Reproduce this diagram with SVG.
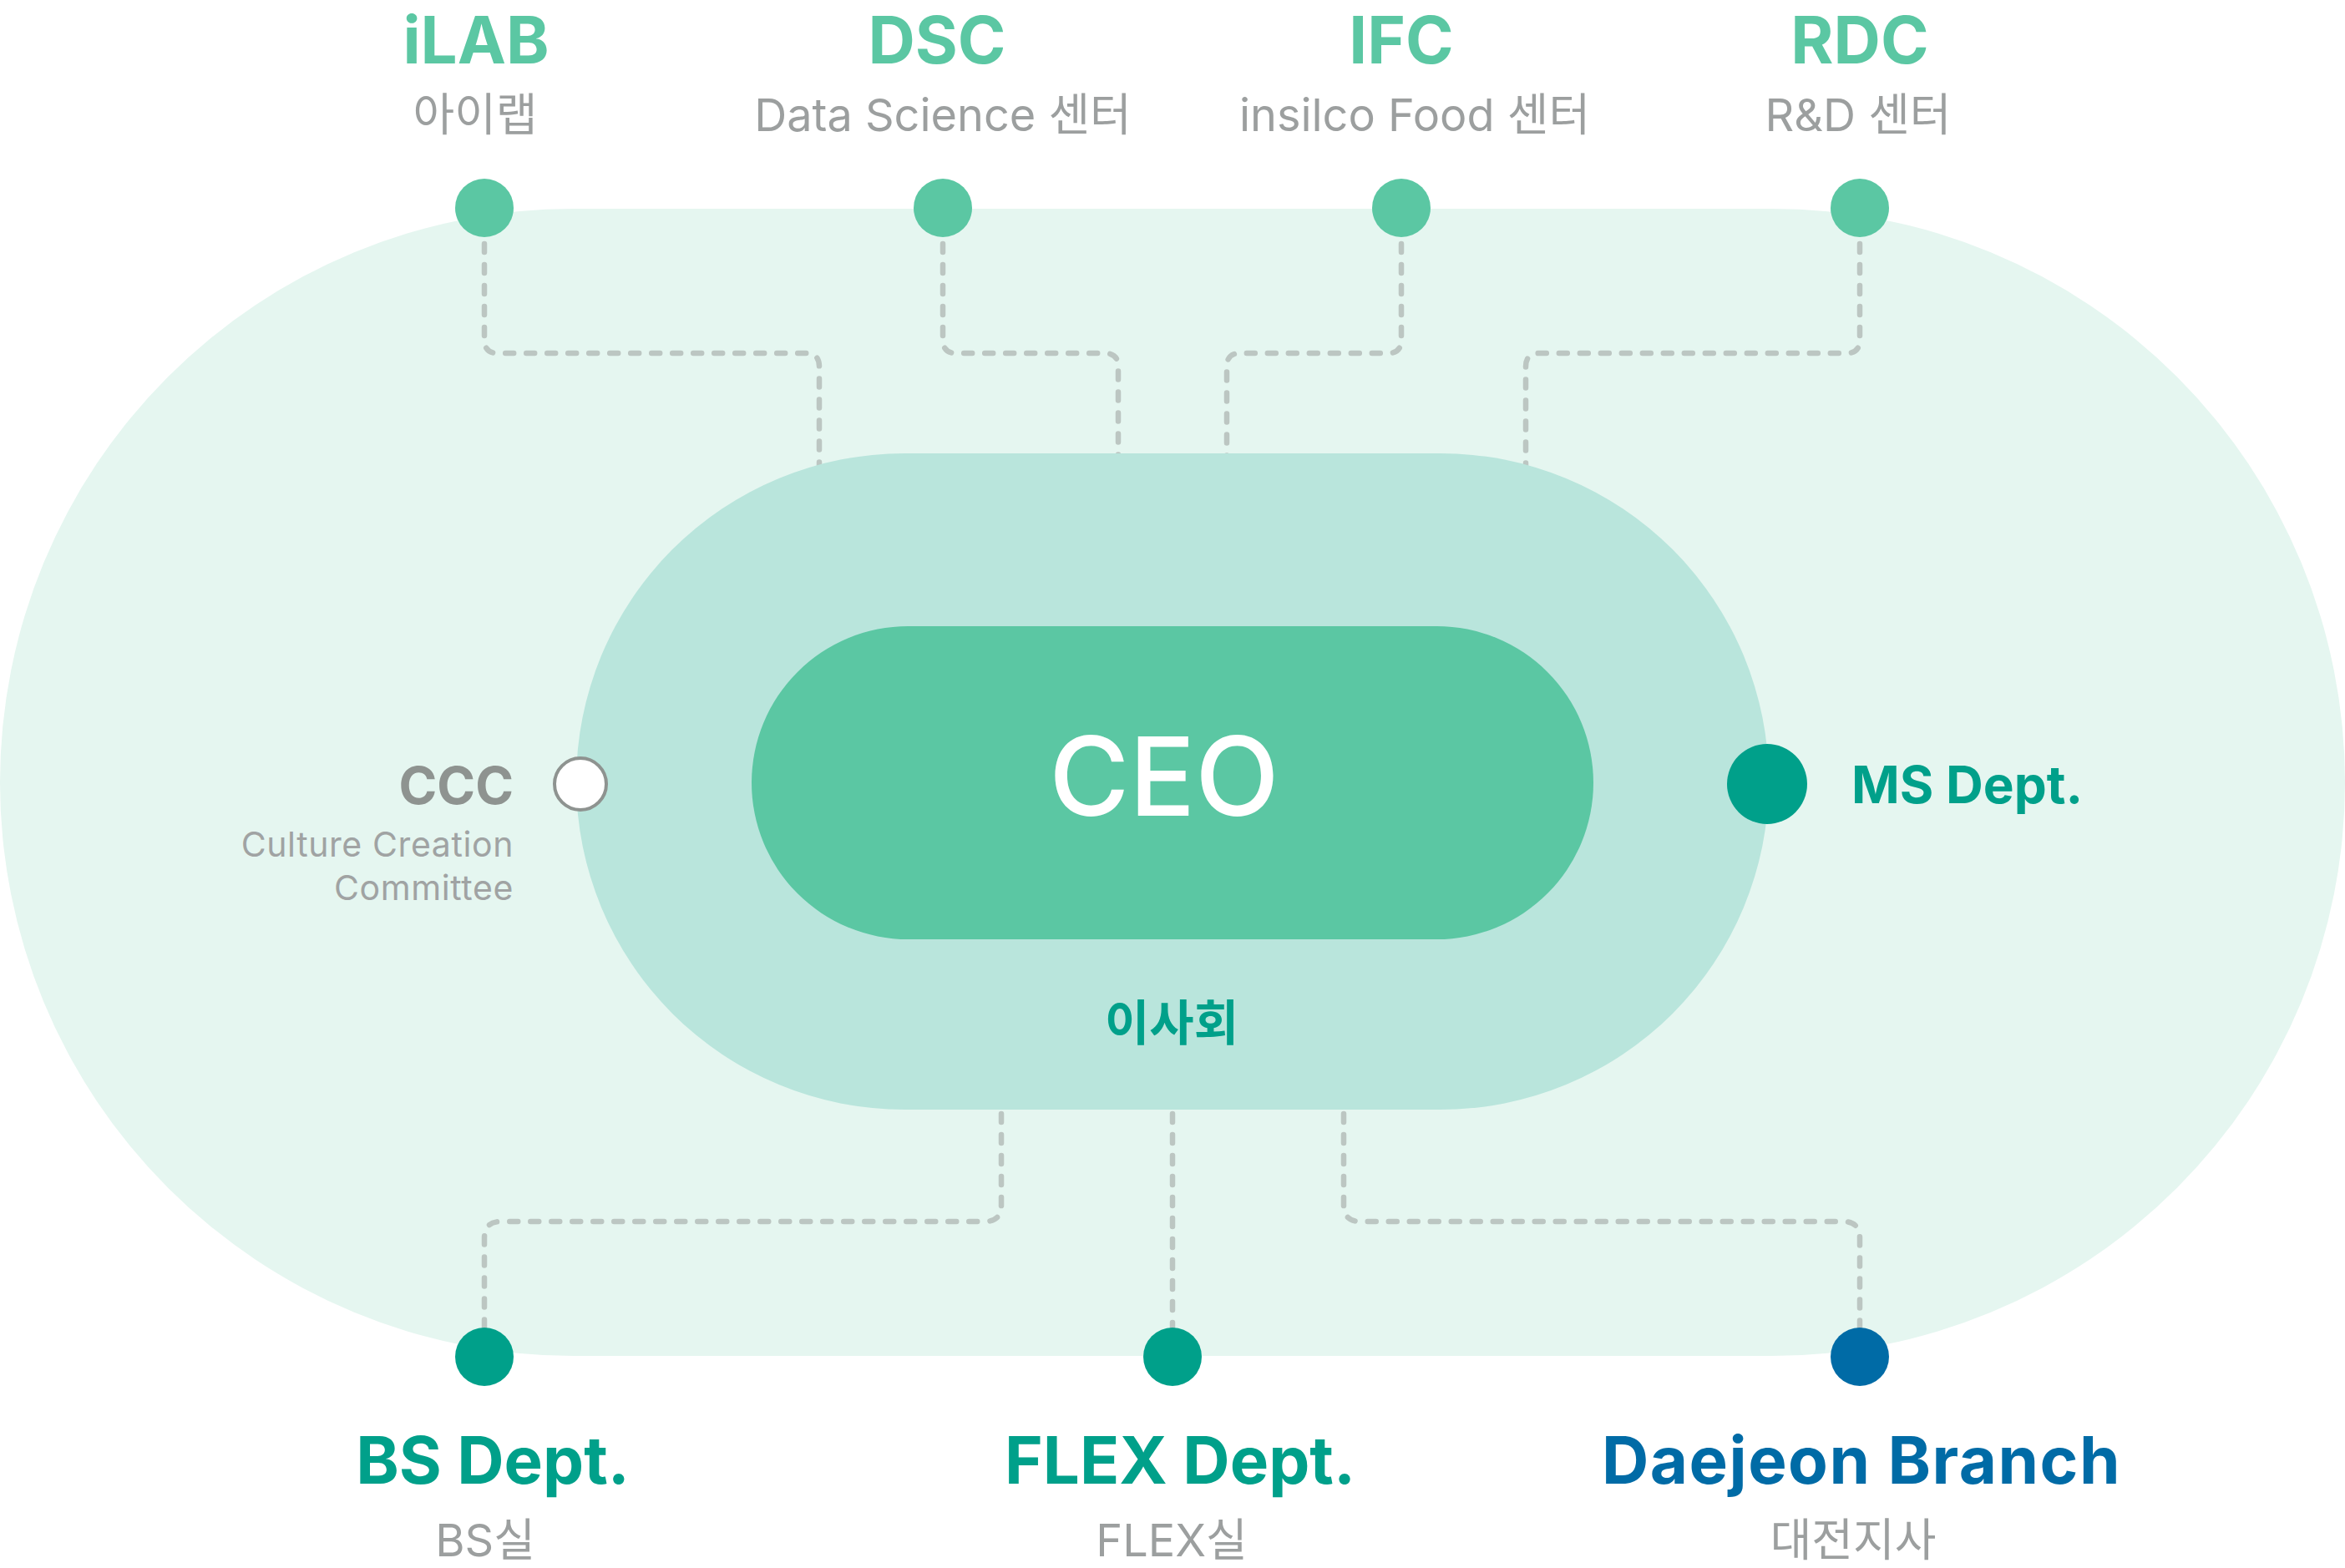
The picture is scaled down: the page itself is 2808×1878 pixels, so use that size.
<svg xmlns="http://www.w3.org/2000/svg" width="2808" height="1878" viewBox="0 0 2808 1878">
  <style>
    .conn { fill: none; stroke: #BCC6C2; stroke-width: 6.5; stroke-dasharray: 10 15; stroke-linecap: round; stroke-linejoin: round; }
    .title { font-family: Inter, "Noto Sans", "Noto Sans CJK KR", sans-serif; font-weight: 700; font-size: 78px; text-anchor: middle; }
    .sub { font-family: Inter, "Noto Sans CJK KR", sans-serif; font-weight: 400; font-size: 54px; fill: #9C9F9F; text-anchor: middle; }
    .mint { fill: #5BC7A3; }
    .teal { fill: #00A08A; }
    .blue { fill: #006BA6; }
  </style>
  <rect width="2808" height="1878" fill="#FFFFFF"/>
  <g id="outer-ring">
    <rect x="0" y="250" width="2808" height="1374" rx="687" ry="687" fill="#E5F6F0"/>
  </g>
  <g id="connectors">
    <path class="conn" d="M580 292 V407 Q580 423 596 423 H965 Q981 423 981 439 V562"/>
    <path class="conn" d="M1129 292 V407 Q1129 423 1145 423 H1323 Q1339 423 1339 439 V562"/>
    <path class="conn" d="M1678 292 V407 Q1678 423 1662 423 H1485 Q1469 423 1469 439 V562"/>
    <path class="conn" d="M2227 292 V407 Q2227 423 2211 423 H1843 Q1827 423 1827 439 V562"/>
    <path class="conn" d="M1199 1334 V1443 Q1199 1463 1179 1463 H600 Q580 1463 580 1483 V1590"/>
    <path class="conn" d="M1404 1334 V1590"/>
    <path class="conn" d="M1609 1334 V1443 Q1609 1463 1629 1463 H2207 Q2227 1463 2227 1483 V1590"/>
  </g>
  <g id="board">
    <rect x="690" y="543" width="1428" height="786" rx="393" ry="393" fill="#B9E5DC"/>
    <text x="1403" y="1246" font-family="'Noto Sans CJK KR', sans-serif" font-weight="700" font-size="58" fill="#00A08A" text-anchor="middle">이사회</text>
  </g>
  <g id="ceo">
    <rect x="900" y="750" width="1008" height="375" rx="187.5" ry="187.5" fill="#5BC7A3"/>
    <text x="1394" y="977" font-family="Inter, 'Noto Sans', sans-serif" font-weight="500" font-size="131" fill="#FFFFFF" text-anchor="middle">CEO</text>
  </g>
  <g id="ilab">
    <circle cx="580" cy="249" r="35" class="mint"/>
    <text x="570" y="76" class="title mint">iLAB</text>
    <text x="569" y="157" class="sub">아이랩</text>
  </g>
  <g id="dsc">
    <circle cx="1129" cy="249" r="35" class="mint"/>
    <text x="1122" y="76" class="title mint">DSC</text>
    <text x="1129" y="157" class="sub">Data Science 센터</text>
  </g>
  <g id="ifc">
    <circle cx="1678" cy="249" r="35" class="mint"/>
    <text x="1678" y="76" class="title mint">IFC</text>
    <text x="1694" y="157" class="sub">insilco Food 센터</text>
  </g>
  <g id="rdc">
    <circle cx="2227" cy="249" r="35" class="mint"/>
    <text x="2227" y="76" class="title mint">RDC</text>
    <text x="2225" y="157" class="sub">R&amp;D 센터</text>
  </g>
  <g id="ccc">
    <circle cx="695" cy="939" r="31" fill="#FFFFFF" stroke="#8E9390" stroke-width="4"/>
    <text x="615" y="963" font-family="Inter, 'Noto Sans', sans-serif" font-weight="700" font-size="62" fill="#8E9390" text-anchor="end">CCC</text>
    <text x="615" y="1026" font-family="Inter, 'Noto Sans', sans-serif" font-weight="400" font-size="41" letter-spacing="0.6" fill="#A0A3A3" text-anchor="end">Culture Creation</text>
    <text x="615" y="1078" font-family="Inter, 'Noto Sans', sans-serif" font-weight="400" font-size="41" letter-spacing="0.6" fill="#A0A3A3" text-anchor="end">Committee</text>
  </g>
  <g id="ms-dept">
    <circle cx="2116" cy="939" r="48" class="teal"/>
    <text x="2217" y="962" font-family="Inter, 'Noto Sans', sans-serif" font-weight="700" font-size="62" class="teal">MS Dept.</text>
  </g>
  <g id="bs-dept">
    <circle cx="580" cy="1625" r="35" class="teal"/>
    <text x="590" y="1777" class="title teal">BS Dept.</text>
    <text x="581" y="1864" class="sub">BS실</text>
  </g>
  <g id="flex-dept">
    <circle cx="1404" cy="1625" r="35" class="teal"/>
    <text x="1413" y="1777" class="title teal">FLEX Dept.</text>
    <text x="1403" y="1864" class="sub">FLEX실</text>
  </g>
  <g id="daejeon">
    <circle cx="2227" cy="1625" r="35" class="blue"/>
    <text x="2229" y="1777" class="title blue" letter-spacing="1.5">Daejeon Branch</text>
    <text x="2219" y="1864" class="sub">대전지사</text>
  </g>
</svg>
